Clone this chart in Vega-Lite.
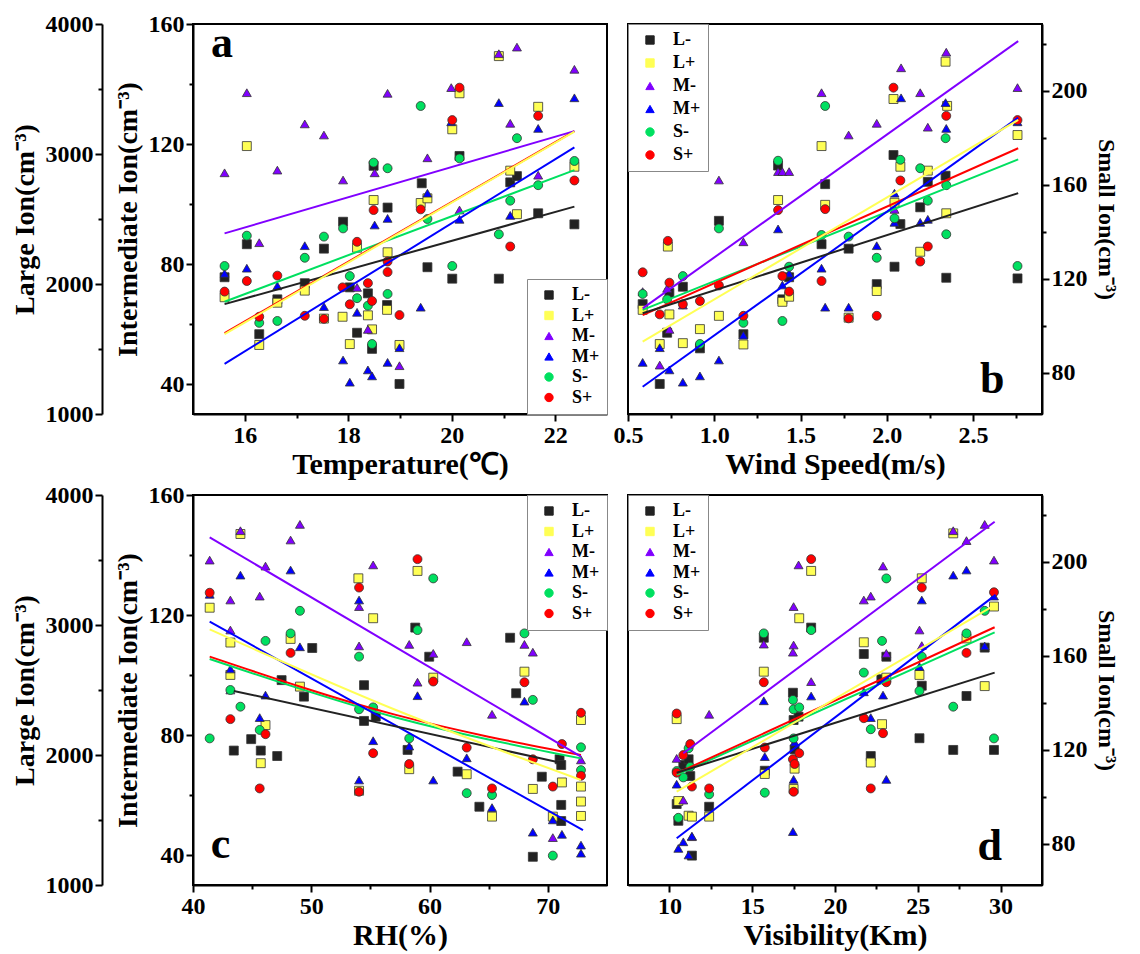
{
"$schema": "https://vega.github.io/schema/vega-lite/v6.json",
"background": "white",
"padding": {"left": 10, "top": 11, "right": 5, "bottom": 5},
"datasets": {
"letters": [
{"panel":"a","x":15.35,"y":149,"label":"a"},{"panel":"b","x":2.54,"y":37,"label":"b"},{"panel":"c","x":41.5,"y":39,"label":"c"},{"panel":"d","x":28.6,"y":38.3,"label":"d"}
],
"fits": [
{"panel":"a","series":"L-","x":15.61,"y":1845},{"panel":"a","series":"L-","x":22.37,"y":2595},
{"panel":"a","series":"L+","x":15.61,"y":1614},{"panel":"a","series":"L+","x":22.37,"y":3172},
{"panel":"a","series":"M-","x":15.61,"y":90.2},{"panel":"a","series":"M-","x":22.37,"y":124.3},
{"panel":"a","series":"M+","x":15.61,"y":46.7},{"panel":"a","series":"M+","x":22.37,"y":118.9},
{"panel":"a","series":"S-","x":15.61,"y":110.3},{"panel":"a","series":"S-","x":22.37,"y":166.3},
{"panel":"a","series":"S+","x":15.61,"y":96.9},{"panel":"a","series":"S+","x":22.37,"y":182.9},
{"panel":"b","series":"L-","x":0.585,"y":1775},{"panel":"b","series":"L-","x":2.762,"y":2699},
{"panel":"b","series":"L+","x":0.585,"y":1556},{"panel":"b","series":"L+","x":2.762,"y":3262},
{"panel":"b","series":"M-","x":0.585,"y":65.2},{"panel":"b","series":"M-","x":2.762,"y":154.3},
{"panel":"b","series":"M+","x":0.585,"y":39.1},{"panel":"b","series":"M+","x":2.762,"y":128.8},
{"panel":"b","series":"S-","x":0.585,"y":106.8},{"panel":"b","series":"S-","x":2.762,"y":170.9},
{"panel":"b","series":"S+","x":0.585,"y":104.6},{"panel":"b","series":"S+","x":2.762,"y":175.6},
{"panel":"c","series":"L-","x":43.45,"y":2493},{"panel":"c","series":"L-","x":71.27,"y":1937},
{"panel":"c","series":"L+","x":41.41,"y":2966},{"panel":"c","series":"L+","x":57.15,"y":2346},{"panel":"c","series":"L+","x":72.8,"y":1808},
{"panel":"c","series":"M-","x":41.41,"y":145.9},{"panel":"c","series":"M-","x":72.8,"y":72.8},
{"panel":"c","series":"M+","x":41.41,"y":117.8},{"panel":"c","series":"M+","x":72.97,"y":48.3},
{"panel":"c","series":"S-","x":41.41,"y":158.7},{"panel":"c","series":"S-","x":57.15,"y":133.8},{"panel":"c","series":"S-","x":72.8,"y":116.4},
{"panel":"c","series":"S+","x":41.41,"y":159.7},{"panel":"c","series":"S+","x":57.15,"y":134.9},{"panel":"c","series":"S+","x":72.8,"y":117.8},
{"panel":"d","series":"L-","x":10.44,"y":1863},{"panel":"d","series":"L-","x":29.64,"y":2634},
{"panel":"d","series":"L+","x":10.44,"y":1718},{"panel":"d","series":"L+","x":29.64,"y":3153},
{"panel":"d","series":"M-","x":10.84,"y":73.9},{"panel":"d","series":"M-","x":29.64,"y":151.1},
{"panel":"d","series":"M+","x":10.44,"y":45.6},{"panel":"d","series":"M+","x":29.7,"y":126.7},
{"panel":"d","series":"S-","x":10.44,"y":109.4},{"panel":"d","series":"S-","x":29.64,"y":170},
{"panel":"d","series":"S+","x":10.44,"y":110},{"panel":"d","series":"S+","x":29.64,"y":172.2}
],
"pts": [
{"panel":"a","series":"L-","x":15.61,"y":2052},{"panel":"a","series":"L-","x":16.04,"y":2306},{"panel":"a","series":"L-","x":16.28,"y":1614},{"panel":"a","series":"L-","x":16.63,"y":1882},{"panel":"a","series":"L-","x":17.16,"y":2006},{"panel":"a","series":"L-","x":17.53,"y":2272},{"panel":"a","series":"L-","x":17.9,"y":2479},{"panel":"a","series":"L-","x":18.03,"y":1974},{"panel":"a","series":"L-","x":18.17,"y":1625},{"panel":"a","series":"L-","x":18.38,"y":1928},{"panel":"a","series":"L-","x":18.46,"y":1501},{"panel":"a","series":"L-","x":18.49,"y":2909},{"panel":"a","series":"L-","x":18.76,"y":2588},{"panel":"a","series":"L-","x":18.75,"y":1838},{"panel":"a","series":"L-","x":18.99,"y":1231},{"panel":"a","series":"L-","x":19.42,"y":2775},{"panel":"a","series":"L-","x":19.53,"y":2129},{"panel":"a","series":"L-","x":20.01,"y":2041},{"panel":"a","series":"L-","x":20.15,"y":2985},{"panel":"a","series":"L-","x":20.91,"y":2041},{"panel":"a","series":"L-","x":21.13,"y":2782},{"panel":"a","series":"L-","x":21.26,"y":2830},{"panel":"a","series":"L-","x":21.67,"y":2544},{"panel":"a","series":"L-","x":22.37,"y":2459},
{"panel":"a","series":"L+","x":15.61,"y":1898},{"panel":"a","series":"L+","x":16.04,"y":3061},{"panel":"a","series":"L+","x":16.28,"y":1531},{"panel":"a","series":"L+","x":16.63,"y":1856},{"panel":"a","series":"L+","x":17.16,"y":1949},{"panel":"a","series":"L+","x":17.53,"y":1734},{"panel":"a","series":"L+","x":17.89,"y":1748},{"panel":"a","series":"L+","x":18.03,"y":1538},{"panel":"a","series":"L+","x":18.17,"y":2279},{"panel":"a","series":"L+","x":18.38,"y":1759},{"panel":"a","series":"L+","x":18.46,"y":1651},{"panel":"a","series":"L+","x":18.49,"y":2646},{"panel":"a","series":"L+","x":18.76,"y":2244},{"panel":"a","series":"L+","x":18.75,"y":1801},{"panel":"a","series":"L+","x":18.99,"y":1531},{"panel":"a","series":"L+","x":19.4,"y":2623},{"panel":"a","series":"L+","x":19.53,"y":2659},{"panel":"a","series":"L+","x":20.01,"y":3190},{"panel":"a","series":"L+","x":20.15,"y":3467},{"panel":"a","series":"L+","x":20.91,"y":3753},{"panel":"a","series":"L+","x":21.13,"y":2872},{"panel":"a","series":"L+","x":21.26,"y":2537},{"panel":"a","series":"L+","x":21.67,"y":3363},{"panel":"a","series":"L+","x":22.37,"y":2902},
{"panel":"a","series":"M-","x":15.61,"y":110.4},{"panel":"a","series":"M-","x":16.04,"y":137.1},{"panel":"a","series":"M-","x":16.28,"y":87.1},{"panel":"a","series":"M-","x":16.63,"y":111.3},{"panel":"a","series":"M-","x":17.16,"y":126.7},{"panel":"a","series":"M-","x":17.53,"y":123},{"panel":"a","series":"M-","x":17.9,"y":108},{"panel":"a","series":"M-","x":18.17,"y":72.2},{"panel":"a","series":"M-","x":18.38,"y":58.2},{"panel":"a","series":"M-","x":18.51,"y":110.4},{"panel":"a","series":"M-","x":18.76,"y":136.9},{"panel":"a","series":"M-","x":18.99,"y":46.1},{"panel":"a","series":"M-","x":19.53,"y":115.4},{"panel":"a","series":"M-","x":19.99,"y":138.8},{"panel":"a","series":"M-","x":20.15,"y":98},{"panel":"a","series":"M-","x":20.91,"y":150.1},{"panel":"a","series":"M-","x":21.26,"y":152.3},{"panel":"a","series":"M-","x":21.13,"y":126.9},{"panel":"a","series":"M-","x":21.67,"y":109.6},{"panel":"a","series":"M-","x":22.37,"y":144.9},
{"panel":"a","series":"M+","x":15.61,"y":76.9},{"panel":"a","series":"M+","x":16.04,"y":78.6},{"panel":"a","series":"M+","x":16.63,"y":72.7},{"panel":"a","series":"M+","x":17.16,"y":86.1},{"panel":"a","series":"M+","x":17.53,"y":65.8},{"panel":"a","series":"M+","x":17.9,"y":48},{"panel":"a","series":"M+","x":18.03,"y":40.6},{"panel":"a","series":"M+","x":18.17,"y":63.9},{"panel":"a","series":"M+","x":18.38,"y":44.7},{"panel":"a","series":"M+","x":18.46,"y":42.7},{"panel":"a","series":"M+","x":18.51,"y":93},{"panel":"a","series":"M+","x":18.76,"y":95.2},{"panel":"a","series":"M+","x":18.76,"y":47.2},{"panel":"a","series":"M+","x":18.99,"y":52.1},{"panel":"a","series":"M+","x":19.4,"y":65.6},{"panel":"a","series":"M+","x":19.53,"y":103.6},{"panel":"a","series":"M+","x":19.99,"y":127.4},{"panel":"a","series":"M+","x":20.15,"y":94.9},{"panel":"a","series":"M+","x":20.91,"y":133.8},{"panel":"a","series":"M+","x":21.13,"y":96.2},{"panel":"a","series":"M+","x":21.67,"y":125.2},{"panel":"a","series":"M+","x":22.37,"y":135.4},
{"panel":"a","series":"S-","x":15.61,"y":125.5},{"panel":"a","series":"S-","x":16.04,"y":138.4},{"panel":"a","series":"S-","x":16.28,"y":101.3},{"panel":"a","series":"S-","x":16.63,"y":102.1},{"panel":"a","series":"S-","x":17.16,"y":129},{"panel":"a","series":"S-","x":17.53,"y":138},{"panel":"a","series":"S-","x":17.9,"y":141.5},{"panel":"a","series":"S-","x":18.03,"y":121.2},{"panel":"a","series":"S-","x":18.17,"y":111.8},{"panel":"a","series":"S-","x":18.38,"y":108.6},{"panel":"a","series":"S-","x":18.46,"y":92.3},{"panel":"a","series":"S-","x":18.49,"y":169.5},{"panel":"a","series":"S-","x":18.76,"y":167.1},{"panel":"a","series":"S-","x":18.76,"y":113.6},{"panel":"a","series":"S-","x":19.4,"y":193.6},{"panel":"a","series":"S-","x":19.53,"y":145.5},{"panel":"a","series":"S-","x":20.01,"y":125.5},{"panel":"a","series":"S-","x":20.15,"y":171.3},{"panel":"a","series":"S-","x":20.91,"y":139},{"panel":"a","series":"S-","x":21.13,"y":153.3},{"panel":"a","series":"S-","x":21.26,"y":179.9},{"panel":"a","series":"S-","x":21.67,"y":159.9},{"panel":"a","series":"S-","x":22.37,"y":170.2},
{"panel":"a","series":"S+","x":15.61,"y":114.6},{"panel":"a","series":"S+","x":16.04,"y":119.1},{"panel":"a","series":"S+","x":16.28,"y":103.9},{"panel":"a","series":"S+","x":16.63,"y":121.4},{"panel":"a","series":"S+","x":17.16,"y":104.3},{"panel":"a","series":"S+","x":17.53,"y":103},{"panel":"a","series":"S+","x":17.89,"y":116.4},{"panel":"a","series":"S+","x":18.03,"y":109.2},{"panel":"a","series":"S+","x":18.17,"y":135.8},{"panel":"a","series":"S+","x":18.38,"y":118.2},{"panel":"a","series":"S+","x":18.46,"y":110.6},{"panel":"a","series":"S+","x":18.49,"y":149.3},{"panel":"a","series":"S+","x":18.76,"y":127.4},{"panel":"a","series":"S+","x":18.76,"y":122.9},{"panel":"a","series":"S+","x":18.99,"y":104.6},{"panel":"a","series":"S+","x":19.4,"y":149.6},{"panel":"a","series":"S+","x":20.01,"y":187.6},{"panel":"a","series":"S+","x":20.15,"y":201.4},{"panel":"a","series":"S+","x":21.13,"y":133.8},{"panel":"a","series":"S+","x":21.67,"y":189.4},{"panel":"a","series":"S+","x":22.37,"y":161.9},
{"panel":"b","series":"L-","x":0.585,"y":1845},{"panel":"b","series":"L-","x":0.684,"y":1231},{"panel":"b","series":"L-","x":0.727,"y":1625},{"panel":"b","series":"L-","x":0.74,"y":1932},{"panel":"b","series":"L-","x":0.818,"y":1979},{"panel":"b","series":"L-","x":0.917,"y":1505},{"panel":"b","series":"L-","x":1.027,"y":2486},{"panel":"b","series":"L-","x":1.169,"y":1614},{"panel":"b","series":"L-","x":1.37,"y":2911},{"panel":"b","series":"L-","x":1.395,"y":1882},{"panel":"b","series":"L-","x":1.434,"y":2052},{"panel":"b","series":"L-","x":1.622,"y":2306},{"panel":"b","series":"L-","x":1.643,"y":2768},{"panel":"b","series":"L-","x":1.779,"y":2272},{"panel":"b","series":"L-","x":1.942,"y":1999},{"panel":"b","series":"L-","x":2.039,"y":2992},{"panel":"b","series":"L-","x":2.045,"y":2133},{"panel":"b","series":"L-","x":2.079,"y":2461},{"panel":"b","series":"L-","x":2.194,"y":2590},{"panel":"b","series":"L-","x":2.238,"y":2786},{"panel":"b","series":"L-","x":2.341,"y":2833},{"panel":"b","series":"L-","x":2.345,"y":2048},{"panel":"b","series":"L-","x":2.758,"y":2043},
{"panel":"b","series":"L+","x":0.585,"y":1801},{"panel":"b","series":"L+","x":0.684,"y":1538},{"panel":"b","series":"L+","x":0.74,"y":1766},{"panel":"b","series":"L+","x":0.731,"y":2288},{"panel":"b","series":"L+","x":0.818,"y":1545},{"panel":"b","series":"L+","x":0.917,"y":1653},{"panel":"b","series":"L+","x":1.027,"y":1755},{"panel":"b","series":"L+","x":1.169,"y":1535},{"panel":"b","series":"L+","x":1.37,"y":2646},{"panel":"b","series":"L+","x":1.395,"y":1863},{"panel":"b","series":"L+","x":1.434,"y":1902},{"panel":"b","series":"L+","x":1.622,"y":3061},{"panel":"b","series":"L+","x":1.643,"y":2609},{"panel":"b","series":"L+","x":1.779,"y":1741},{"panel":"b","series":"L+","x":1.942,"y":1946},{"panel":"b","series":"L+","x":2.039,"y":3423},{"panel":"b","series":"L+","x":2.045,"y":2625},{"panel":"b","series":"L+","x":2.079,"y":2902},{"panel":"b","series":"L+","x":2.194,"y":2248},{"panel":"b","series":"L+","x":2.238,"y":2872},{"panel":"b","series":"L+","x":2.341,"y":3710},{"panel":"b","series":"L+","x":2.345,"y":2544},{"panel":"b","series":"L+","x":2.35,"y":3370},{"panel":"b","series":"L+","x":2.758,"y":3146},
{"panel":"b","series":"M-","x":0.585,"y":70.8},{"panel":"b","series":"M-","x":0.684,"y":46.3},{"panel":"b","series":"M-","x":0.727,"y":71.9},{"panel":"b","series":"M-","x":0.74,"y":58.2},{"panel":"b","series":"M-","x":0.818,"y":66.3},{"panel":"b","series":"M-","x":1.027,"y":108},{"panel":"b","series":"M-","x":1.169,"y":87.4},{"panel":"b","series":"M-","x":1.37,"y":110.8},{"panel":"b","series":"M-","x":1.395,"y":110.8},{"panel":"b","series":"M-","x":1.434,"y":110.8},{"panel":"b","series":"M-","x":1.622,"y":137.1},{"panel":"b","series":"M-","x":1.779,"y":123},{"panel":"b","series":"M-","x":1.942,"y":126.9},{"panel":"b","series":"M-","x":2.045,"y":98.2},{"panel":"b","series":"M-","x":2.083,"y":145.4},{"panel":"b","series":"M-","x":2.194,"y":137.1},{"panel":"b","series":"M-","x":2.238,"y":125.6},{"panel":"b","series":"M-","x":2.345,"y":150.6},{"panel":"b","series":"M-","x":2.758,"y":138.8},
{"panel":"b","series":"M+","x":0.585,"y":47.2},{"panel":"b","series":"M+","x":0.684,"y":52.1},{"panel":"b","series":"M+","x":0.74,"y":44.7},{"panel":"b","series":"M+","x":0.818,"y":40.6},{"panel":"b","series":"M+","x":0.917,"y":42.7},{"panel":"b","series":"M+","x":1.027,"y":48},{"panel":"b","series":"M+","x":1.169,"y":56.3},{"panel":"b","series":"M+","x":1.37,"y":91.7},{"panel":"b","series":"M+","x":1.395,"y":73},{"panel":"b","series":"M+","x":1.434,"y":76.9},{"panel":"b","series":"M+","x":1.622,"y":78.6},{"panel":"b","series":"M+","x":1.643,"y":65.6},{"panel":"b","series":"M+","x":1.779,"y":65.6},{"panel":"b","series":"M+","x":1.942,"y":86.1},{"panel":"b","series":"M+","x":2.045,"y":103.6},{"panel":"b","series":"M+","x":2.045,"y":93.9},{"panel":"b","series":"M+","x":2.083,"y":135.4},{"panel":"b","series":"M+","x":2.194,"y":93.9},{"panel":"b","series":"M+","x":2.238,"y":94.9},{"panel":"b","series":"M+","x":2.341,"y":133.8},{"panel":"b","series":"M+","x":2.345,"y":125.2},{"panel":"b","series":"M+","x":2.758,"y":127.4},
{"panel":"b","series":"S-","x":0.585,"y":113.6},{"panel":"b","series":"S-","x":0.727,"y":111.3},{"panel":"b","series":"S-","x":0.818,"y":121.2},{"panel":"b","series":"S-","x":0.917,"y":92.3},{"panel":"b","series":"S-","x":1.027,"y":141.5},{"panel":"b","series":"S-","x":1.169,"y":101.3},{"panel":"b","series":"S-","x":1.37,"y":170.3},{"panel":"b","series":"S-","x":1.395,"y":102.1},{"panel":"b","series":"S-","x":1.434,"y":125.2},{"panel":"b","series":"S-","x":1.622,"y":138.7},{"panel":"b","series":"S-","x":1.643,"y":193.6},{"panel":"b","series":"S-","x":1.779,"y":138},{"panel":"b","series":"S-","x":1.942,"y":129},{"panel":"b","series":"S-","x":2.045,"y":145.8},{"panel":"b","series":"S-","x":2.079,"y":170.7},{"panel":"b","series":"S-","x":2.194,"y":167.1},{"panel":"b","series":"S-","x":2.238,"y":153.3},{"panel":"b","series":"S-","x":2.341,"y":179.9},{"panel":"b","series":"S-","x":2.345,"y":159.9},{"panel":"b","series":"S-","x":2.345,"y":139},{"panel":"b","series":"S-","x":2.758,"y":125.5},
{"panel":"b","series":"S+","x":0.585,"y":122.8},{"panel":"b","series":"S+","x":0.684,"y":104.9},{"panel":"b","series":"S+","x":0.731,"y":136.2},{"panel":"b","series":"S+","x":0.74,"y":118.4},{"panel":"b","series":"S+","x":0.818,"y":109.2},{"panel":"b","series":"S+","x":0.917,"y":110.6},{"panel":"b","series":"S+","x":1.027,"y":117.2},{"panel":"b","series":"S+","x":1.169,"y":104.3},{"panel":"b","series":"S+","x":1.37,"y":149.3},{"panel":"b","series":"S+","x":1.395,"y":121.2},{"panel":"b","series":"S+","x":1.434,"y":114.6},{"panel":"b","series":"S+","x":1.622,"y":119.1},{"panel":"b","series":"S+","x":1.643,"y":149.7},{"panel":"b","series":"S+","x":1.779,"y":103.2},{"panel":"b","series":"S+","x":1.942,"y":104.3},{"panel":"b","series":"S+","x":2.039,"y":201.4},{"panel":"b","series":"S+","x":2.079,"y":161.9},{"panel":"b","series":"S+","x":2.194,"y":127.4},{"panel":"b","series":"S+","x":2.238,"y":133.8},{"panel":"b","series":"S+","x":2.345,"y":189.4},{"panel":"b","series":"S+","x":2.758,"y":187.6},
{"panel":"c","series":"L-","x":43.45,"y":2034},{"panel":"c","series":"L-","x":44.92,"y":2122},{"panel":"c","series":"L-","x":45.73,"y":2034},{"panel":"c","series":"L-","x":47.12,"y":1992},{"panel":"c","series":"L-","x":47.49,"y":2576},{"panel":"c","series":"L-","x":49.38,"y":2449},{"panel":"c","series":"L-","x":50.08,"y":2823},{"panel":"c","series":"L-","x":54.46,"y":2537},{"panel":"c","series":"L-","x":54.46,"y":2262},{"panel":"c","series":"L-","x":55.45,"y":2295},{"panel":"c","series":"L-","x":58.14,"y":2039},{"panel":"c","series":"L-","x":58.79,"y":2980},{"panel":"c","series":"L-","x":59.97,"y":2756},{"panel":"c","series":"L-","x":62.37,"y":1872},{"panel":"c","series":"L-","x":64.21,"y":1602},{"panel":"c","series":"L-","x":66.81,"y":2902},{"panel":"c","series":"L-","x":67.32,"y":2475},{"panel":"c","series":"L-","x":68.73,"y":1217},{"panel":"c","series":"L-","x":69.49,"y":1833},{"panel":"c","series":"L-","x":70.99,"y":1967},{"panel":"c","series":"L-","x":71.13,"y":1616},{"panel":"c","series":"L-","x":71.13,"y":1492},{"panel":"c","series":"L-","x":71.13,"y":1923},
{"panel":"c","series":"L+","x":41.41,"y":3133},{"panel":"c","series":"L+","x":43.16,"y":2865},{"panel":"c","series":"L+","x":43.16,"y":2616},{"panel":"c","series":"L+","x":44.01,"y":3700},{"panel":"c","series":"L+","x":45.73,"y":1937},{"panel":"c","series":"L+","x":46.13,"y":2230},{"panel":"c","series":"L+","x":48.25,"y":2893},{"panel":"c","series":"L+","x":49.04,"y":2526},{"panel":"c","series":"L+","x":53.98,"y":3359},{"panel":"c","series":"L+","x":54.04,"y":1725},{"panel":"c","series":"L+","x":55.23,"y":3052},{"panel":"c","series":"L+","x":58.28,"y":1891},{"panel":"c","series":"L+","x":58.98,"y":3416},{"panel":"c","series":"L+","x":60.31,"y":2595},{"panel":"c","series":"L+","x":63.14,"y":1852},{"panel":"c","series":"L+","x":65.28,"y":1526},{"panel":"c","series":"L+","x":68.02,"y":2641},{"panel":"c","series":"L+","x":68.73,"y":1739},{"panel":"c","series":"L+","x":70.42,"y":1526},{"panel":"c","series":"L+","x":71.19,"y":1789},{"panel":"c","series":"L+","x":72.8,"y":2269},{"panel":"c","series":"L+","x":72.8,"y":1757},{"panel":"c","series":"L+","x":72.8,"y":1642},{"panel":"c","series":"L+","x":72.8,"y":1531},
{"panel":"c","series":"M-","x":41.41,"y":138.3},{"panel":"c","series":"M-","x":43.16,"y":125},{"panel":"c","series":"M-","x":43.16,"y":115},{"panel":"c","series":"M-","x":43.16,"y":95},{"panel":"c","series":"M-","x":44.01,"y":148.1},{"panel":"c","series":"M-","x":45.64,"y":126.3},{"panel":"c","series":"M-","x":46.13,"y":136.3},{"panel":"c","series":"M-","x":48.25,"y":145},{"panel":"c","series":"M-","x":49.04,"y":150.2},{"panel":"c","series":"M-","x":54.04,"y":109.7},{"panel":"c","series":"M-","x":54.04,"y":122.8},{"panel":"c","series":"M-","x":55.23,"y":136.7},{"panel":"c","series":"M-","x":58.28,"y":110.2},{"panel":"c","series":"M-","x":58.98,"y":97.6},{"panel":"c","series":"M-","x":60.31,"y":107.2},{"panel":"c","series":"M-","x":63.14,"y":111.1},{"panel":"c","series":"M-","x":65.28,"y":86.9},{"panel":"c","series":"M-","x":68.02,"y":110.2},{"panel":"c","series":"M-","x":68.73,"y":107.6},{"panel":"c","series":"M-","x":70.42,"y":45.8},{"panel":"c","series":"M-","x":72.8,"y":71.7},
{"panel":"c","series":"M+","x":41.41,"y":126.9},{"panel":"c","series":"M+","x":43.16,"y":102},{"panel":"c","series":"M+","x":44.01,"y":133.3},{"panel":"c","series":"M+","x":45.64,"y":85.8},{"panel":"c","series":"M+","x":46.13,"y":93.3},{"panel":"c","series":"M+","x":48.25,"y":135},{"panel":"c","series":"M+","x":49.04,"y":109.4},{"panel":"c","series":"M+","x":54.04,"y":65},{"panel":"c","series":"M+","x":54.04,"y":125},{"panel":"c","series":"M+","x":55.23,"y":78.1},{"panel":"c","series":"M+","x":58.28,"y":76.3},{"panel":"c","series":"M+","x":58.98,"y":93.1},{"panel":"c","series":"M+","x":60.31,"y":65},{"panel":"c","series":"M+","x":63.14,"y":72.4},{"panel":"c","series":"M+","x":65.28,"y":55.8},{"panel":"c","series":"M+","x":68.02,"y":91.3},{"panel":"c","series":"M+","x":68.73,"y":47.6},{"panel":"c","series":"M+","x":70.42,"y":51.7},{"panel":"c","series":"M+","x":71.19,"y":46.9},{"panel":"c","series":"M+","x":72.8,"y":40.6},{"panel":"c","series":"M+","x":72.8,"y":43.3},
{"panel":"c","series":"S-","x":41.41,"y":124.9},{"panel":"c","series":"S-","x":43.16,"y":145.5},{"panel":"c","series":"S-","x":44.01,"y":138.4},{"panel":"c","series":"S-","x":45.64,"y":128.5},{"panel":"c","series":"S-","x":46.13,"y":166.4},{"panel":"c","series":"S-","x":48.25,"y":169.6},{"panel":"c","series":"S-","x":49.04,"y":179.2},{"panel":"c","series":"S-","x":54.04,"y":159.7},{"panel":"c","series":"S-","x":54.04,"y":137.3},{"panel":"c","series":"S-","x":55.23,"y":138.1},{"panel":"c","series":"S-","x":58.28,"y":124.9},{"panel":"c","series":"S-","x":58.98,"y":171},{"panel":"c","series":"S-","x":60.31,"y":193},{"panel":"c","series":"S-","x":63.14,"y":101.6},{"panel":"c","series":"S-","x":65.28,"y":100.8},{"panel":"c","series":"S-","x":68.02,"y":169.6},{"panel":"c","series":"S-","x":68.73,"y":141.3},{"panel":"c","series":"S-","x":70.42,"y":75},{"panel":"c","series":"S-","x":72.8,"y":121.1},{"panel":"c","series":"S-","x":72.8,"y":111.4},
{"panel":"c","series":"S+","x":41.41,"y":186.9},{"panel":"c","series":"S+","x":43.16,"y":133.1},{"panel":"c","series":"S+","x":45.64,"y":103.6},{"panel":"c","series":"S+","x":46.13,"y":126.7},{"panel":"c","series":"S+","x":48.25,"y":161.3},{"panel":"c","series":"S+","x":54.04,"y":189.1},{"panel":"c","series":"S+","x":54.04,"y":102.2},{"panel":"c","series":"S+","x":55.23,"y":118.6},{"panel":"c","series":"S+","x":58.28,"y":114},{"panel":"c","series":"S+","x":58.98,"y":201.2},{"panel":"c","series":"S+","x":60.31,"y":149.1},{"panel":"c","series":"S+","x":63.14,"y":121},{"panel":"c","series":"S+","x":65.28,"y":103.6},{"panel":"c","series":"S+","x":68.02,"y":148.8},{"panel":"c","series":"S+","x":68.73,"y":116},{"panel":"c","series":"S+","x":70.42,"y":104.4},{"panel":"c","series":"S+","x":71.19,"y":122.5},{"panel":"c","series":"S+","x":72.8,"y":135.8},{"panel":"c","series":"S+","x":72.8,"y":109},
{"panel":"d","series":"L-","x":10.44,"y":1623},{"panel":"d","series":"L-","x":10.54,"y":1494},{"panel":"d","series":"L-","x":10.84,"y":1923},{"panel":"d","series":"L-","x":11.16,"y":1967},{"panel":"d","series":"L-","x":11.26,"y":1838},{"panel":"d","series":"L-","x":11.36,"y":1226},{"panel":"d","series":"L-","x":12.4,"y":1602},{"panel":"d","series":"L-","x":15.7,"y":2902},{"panel":"d","series":"L-","x":15.76,"y":1879},{"panel":"d","series":"L-","x":17.46,"y":2479},{"panel":"d","series":"L-","x":17.5,"y":2269},{"panel":"d","series":"L-","x":17.56,"y":2043},{"panel":"d","series":"L-","x":17.8,"y":2295},{"panel":"d","series":"L-","x":18.56,"y":2980},{"panel":"d","series":"L-","x":21.74,"y":2777},{"panel":"d","series":"L-","x":22.16,"y":1992},{"panel":"d","series":"L-","x":22.8,"y":2583},{"panel":"d","series":"L-","x":23.1,"y":2756},{"panel":"d","series":"L-","x":25.1,"y":2129},{"panel":"d","series":"L-","x":25.24,"y":2533},{"panel":"d","series":"L-","x":27.14,"y":2039},{"panel":"d","series":"L-","x":27.94,"y":2454},{"panel":"d","series":"L-","x":29.04,"y":2826},{"panel":"d","series":"L-","x":29.6,"y":2039},
{"panel":"d","series":"L+","x":10.44,"y":2276},{"panel":"d","series":"L+","x":10.54,"y":1646},{"panel":"d","series":"L+","x":11.16,"y":1533},{"panel":"d","series":"L+","x":11.36,"y":1526},{"panel":"d","series":"L+","x":12.4,"y":1526},{"panel":"d","series":"L+","x":15.7,"y":2641},{"panel":"d","series":"L+","x":15.76,"y":1854},{"panel":"d","series":"L+","x":17.5,"y":1739},{"panel":"d","series":"L+","x":17.56,"y":1895},{"panel":"d","series":"L+","x":17.84,"y":3052},{"panel":"d","series":"L+","x":18.56,"y":3416},{"panel":"d","series":"L+","x":21.74,"y":2867},{"panel":"d","series":"L+","x":22.16,"y":1942},{"panel":"d","series":"L+","x":22.84,"y":2237},{"panel":"d","series":"L+","x":23.1,"y":2595},{"panel":"d","series":"L+","x":25.1,"y":2616},{"panel":"d","series":"L+","x":25.24,"y":3359},{"panel":"d","series":"L+","x":27.14,"y":3705},{"panel":"d","series":"L+","x":27.94,"y":2897},{"panel":"d","series":"L+","x":29.04,"y":2530},{"panel":"d","series":"L+","x":29.6,"y":3142},
{"panel":"d","series":"M-","x":10.44,"y":72.2},{"panel":"d","series":"M-","x":10.84,"y":58.3},{"panel":"d","series":"M-","x":11.36,"y":46.1},{"panel":"d","series":"M-","x":12.4,"y":86.9},{"panel":"d","series":"M-","x":15.7,"y":110.3},{"panel":"d","series":"M-","x":17.5,"y":122.8},{"panel":"d","series":"M-","x":17.5,"y":110},{"panel":"d","series":"M-","x":17.46,"y":107.6},{"panel":"d","series":"M-","x":17.8,"y":136.7},{"panel":"d","series":"M-","x":18.56,"y":97.8},{"panel":"d","series":"M-","x":21.74,"y":125},{"panel":"d","series":"M-","x":22.16,"y":126.3},{"panel":"d","series":"M-","x":22.9,"y":136.3},{"panel":"d","series":"M-","x":23.1,"y":107.2},{"panel":"d","series":"M-","x":25.1,"y":115},{"panel":"d","series":"M-","x":25.24,"y":109.8},{"panel":"d","series":"M-","x":27.14,"y":148.1},{"panel":"d","series":"M-","x":27.94,"y":144.8},{"panel":"d","series":"M-","x":29.04,"y":150.2},{"panel":"d","series":"M-","x":29.6,"y":138.3},
{"panel":"d","series":"M+","x":10.44,"y":63.6},{"panel":"d","series":"M+","x":10.54,"y":42.2},{"panel":"d","series":"M+","x":10.84,"y":44.4},{"panel":"d","series":"M+","x":11.16,"y":40},{"panel":"d","series":"M+","x":11.36,"y":46.3},{"panel":"d","series":"M+","x":15.7,"y":91.4},{"panel":"d","series":"M+","x":15.76,"y":72.8},{"panel":"d","series":"M+","x":17.46,"y":47.8},{"panel":"d","series":"M+","x":17.5,"y":65.2},{"panel":"d","series":"M+","x":17.56,"y":77.6},{"panel":"d","series":"M+","x":18.56,"y":93},{"panel":"d","series":"M+","x":21.74,"y":94.4},{"panel":"d","series":"M+","x":22.16,"y":85.8},{"panel":"d","series":"M+","x":22.9,"y":93.3},{"panel":"d","series":"M+","x":23.1,"y":65.2},{"panel":"d","series":"M+","x":25.1,"y":102.8},{"panel":"d","series":"M+","x":25.24,"y":125},{"panel":"d","series":"M+","x":27.14,"y":133.3},{"panel":"d","series":"M+","x":27.94,"y":135},{"panel":"d","series":"M+","x":29.04,"y":109.7},{"panel":"d","series":"M+","x":29.6,"y":126.3},
{"panel":"d","series":"S-","x":10.44,"y":111},{"panel":"d","series":"S-","x":10.54,"y":91.1},{"panel":"d","series":"S-","x":10.84,"y":108.3},{"panel":"d","series":"S-","x":11.16,"y":120.7},{"panel":"d","series":"S-","x":11.26,"y":112.8},{"panel":"d","series":"S-","x":12.4,"y":101.1},{"panel":"d","series":"S-","x":15.7,"y":169.6},{"panel":"d","series":"S-","x":15.76,"y":101.8},{"panel":"d","series":"S-","x":17.46,"y":141.3},{"panel":"d","series":"S-","x":17.5,"y":124.9},{"panel":"d","series":"S-","x":17.5,"y":137.3},{"panel":"d","series":"S-","x":17.84,"y":138.1},{"panel":"d","series":"S-","x":18.56,"y":171},{"panel":"d","series":"S-","x":21.74,"y":152.9},{"panel":"d","series":"S-","x":22.16,"y":128.8},{"panel":"d","series":"S-","x":22.84,"y":166.4},{"panel":"d","series":"S-","x":23.1,"y":193},{"panel":"d","series":"S-","x":25.1,"y":145.1},{"panel":"d","series":"S-","x":25.24,"y":159.7},{"panel":"d","series":"S-","x":27.14,"y":138.4},{"panel":"d","series":"S-","x":27.94,"y":169.6},{"panel":"d","series":"S-","x":29.04,"y":179.2},{"panel":"d","series":"S-","x":29.6,"y":124.9},
{"panel":"d","series":"S+","x":10.44,"y":135.5},{"panel":"d","series":"S+","x":10.44,"y":110.3},{"panel":"d","series":"S+","x":10.84,"y":117.8},{"panel":"d","series":"S+","x":11.26,"y":122.5},{"panel":"d","series":"S+","x":11.36,"y":104.4},{"panel":"d","series":"S+","x":12.4,"y":103.6},{"panel":"d","series":"S+","x":15.7,"y":148.8},{"panel":"d","series":"S+","x":15.76,"y":121},{"panel":"d","series":"S+","x":17.46,"y":116},{"panel":"d","series":"S+","x":17.5,"y":102.2},{"panel":"d","series":"S+","x":17.56,"y":114},{"panel":"d","series":"S+","x":17.84,"y":118.6},{"panel":"d","series":"S+","x":18.56,"y":201.2},{"panel":"d","series":"S+","x":21.74,"y":133.5},{"panel":"d","series":"S+","x":22.16,"y":103.6},{"panel":"d","series":"S+","x":22.9,"y":127.1},{"panel":"d","series":"S+","x":23.1,"y":148.8},{"panel":"d","series":"S+","x":25.24,"y":189.1},{"panel":"d","series":"S+","x":27.94,"y":161.3},{"panel":"d","series":"S+","x":29.6,"y":187.1}
]
},
"config": {
"font": "Liberation Serif",
"view": {"stroke": "#000", "strokeWidth": 2},
"axis": {"labelFont": "Liberation Serif", "labelFontSize": 24, "labelFontWeight": "bold", "labelColor": "#000", "titleFont": "Liberation Serif", "titleFontSize": 28, "titleFontWeight": "bold", "titleColor": "#000", "domainColor": "#000", "domainWidth": 2, "tickColor": "#000", "tickWidth": 2, "grid": false, "labelFlush": false, "labelOverlap": false, "labelPadding": 2, "titlePadding": 6},
"axisX": {"titleFontSize": 30, "titlePadding": 2},
"legend": {"labelFont": "Liberation Serif", "labelFontSize": 18, "labelFontWeight": "bold", "labelColor": "#000", "symbolSize": 70, "strokeColor": "#888", "fillColor": "#fff", "padding": 7, "offset": 0, "rowPadding": 2.5, "symbolOffset": 6, "labelOffset": 14, "symbolStrokeColor": "#333", "symbolStrokeWidth": 1},
"range": {"category": ["#222222", "#ffff55", "#8000ff", "#0000ff", "#00e060", "#ff0000"], "symbol": ["square", "square", "triangle-up", "triangle-up", "circle", "circle"]}
},
"bounds": "flush",
"columns": 2,
"spacing": {"row": 81, "column": 21},
"resolve": {"scale": {"color": "independent", "shape": "independent"}},
"concat": [
{
"width": 414, "height": 390,
"resolve": {"scale": {"y": "independent"}},
"layer": [
{"data": {"name": "pts"}, "transform": [{"filter": "datum.panel=='a' && substring(datum.series,0,1)=='L'"}],
 "mark": {"type": "point", "filled": true, "size": 80, "stroke": "#333", "strokeWidth": 0.8, "opacity": 1},
 "encoding": {
  "x": {"field": "x", "type": "quantitative", "scale": {"domain": [15, 23], "nice": false, "zero": false}, "axis": {"values": [16,17,18,19,20,21,22], "format": "d", "labelExpr": "datum.value % 2 == 0 ? datum.label : ''", "tickSize": {"condition": {"test": "datum.value % 2 == 0", "value": 7}, "value": 4}, "title": "Temperature(℃)"}},
  "y": {"field": "y", "type": "quantitative", "scale": {"domain": [1000, 4000], "nice": false, "zero": false}, "axis": {"orient": "left", "offset": 91, "values": [1000,1500,2000,2500,3000,3500,4000], "format": "d", "labelExpr": "datum.value % 1000 == 0 ? datum.label : ''", "tickSize": {"condition": {"test": "datum.value % 1000 == 0", "value": 7}, "value": 4}, "title": "Large Ion(cm⁻³)"}},
  "color": {"field": "series", "type": "nominal", "scale": {"domain": ["L-","L+","M-","M+","S-","S+"]}, "legend": {"orient": "bottom-right", "title": null, "encode": {"symbols": {"update": {"stroke": {"value": "#333"}, "strokeWidth": {"value": 1}}}}}},
  "shape": {"field": "series", "type": "nominal", "scale": {"domain": ["L-","L+","M-","M+","S-","S+"]}, "legend": {"orient": "bottom-right", "title": null, "encode": {"symbols": {"update": {"stroke": {"value": "#333"}, "strokeWidth": {"value": 1}}}}}}
 }},
{"data": {"name": "pts"}, "transform": [{"filter": "datum.panel=='a' && substring(datum.series,0,1)=='M'"}],
 "mark": {"type": "point", "filled": true, "size": 80, "stroke": "#333", "strokeWidth": 0.8, "opacity": 1},
 "encoding": {
  "x": {"field": "x", "type": "quantitative", "scale": {"domain": [15, 23], "nice": false, "zero": false}, "axis": {"values": [16,17,18,19,20,21,22], "format": "d", "labelExpr": "datum.value % 2 == 0 ? datum.label : ''", "tickSize": {"condition": {"test": "datum.value % 2 == 0", "value": 7}, "value": 4}, "title": "Temperature(℃)"}},
  "y": {"field": "y", "type": "quantitative", "scale": {"domain": [30, 160], "nice": false, "zero": false}, "axis": {"orient": "left", "values": [40,60,80,100,120,140,160], "format": "d", "labelExpr": "datum.value % 40 == 0 ? datum.label : ''", "tickSize": {"condition": {"test": "datum.value % 40 == 0", "value": 7}, "value": 4}, "title": "Intermediate Ion(cm⁻³)"}},
  "color": {"field": "series", "type": "nominal", "scale": {"domain": ["L-","L+","M-","M+","S-","S+"]}, "legend": {"orient": "bottom-right", "title": null, "encode": {"symbols": {"update": {"stroke": {"value": "#333"}, "strokeWidth": {"value": 1}}}}}},
  "shape": {"field": "series", "type": "nominal", "scale": {"domain": ["L-","L+","M-","M+","S-","S+"]}, "legend": {"orient": "bottom-right", "title": null, "encode": {"symbols": {"update": {"stroke": {"value": "#333"}, "strokeWidth": {"value": 1}}}}}}
 }},
{"data": {"name": "pts"}, "transform": [{"filter": "datum.panel=='a' && substring(datum.series,0,1)=='S'"}],
 "mark": {"type": "point", "filled": true, "size": 80, "stroke": "#333", "strokeWidth": 0.8, "opacity": 1},
 "encoding": {
  "x": {"field": "x", "type": "quantitative", "scale": {"domain": [15, 23], "nice": false, "zero": false}, "axis": {"values": [16,17,18,19,20,21,22], "format": "d", "labelExpr": "datum.value % 2 == 0 ? datum.label : ''", "tickSize": {"condition": {"test": "datum.value % 2 == 0", "value": 7}, "value": 4}, "title": "Temperature(℃)"}},
  "y": {"field": "y", "type": "quantitative", "scale": {"domain": [62.5, 228.5], "nice": false, "zero": false}, "axis": null},
  "color": {"field": "series", "type": "nominal", "scale": {"domain": ["L-","L+","M-","M+","S-","S+"]}, "legend": {"orient": "bottom-right", "title": null, "encode": {"symbols": {"update": {"stroke": {"value": "#333"}, "strokeWidth": {"value": 1}}}}}},
  "shape": {"field": "series", "type": "nominal", "scale": {"domain": ["L-","L+","M-","M+","S-","S+"]}, "legend": {"orient": "bottom-right", "title": null, "encode": {"symbols": {"update": {"stroke": {"value": "#333"}, "strokeWidth": {"value": 1}}}}}}
 }},
{"data": {"name": "fits"}, "transform": [{"filter": "datum.panel=='a' && substring(datum.series,0,1)=='S'"}],
 "mark": {"type": "line", "strokeWidth": 2},
 "encoding": {
  "x": {"field": "x", "type": "quantitative", "scale": {"domain": [15, 23], "nice": false, "zero": false}, "axis": {"values": [16,17,18,19,20,21,22], "format": "d", "labelExpr": "datum.value % 2 == 0 ? datum.label : ''", "tickSize": {"condition": {"test": "datum.value % 2 == 0", "value": 7}, "value": 4}, "title": "Temperature(℃)"}},
  "y": {"field": "y", "type": "quantitative", "scale": {"domain": [62.5, 228.5], "nice": false, "zero": false}, "axis": null},
  "color": {"field": "series", "type": "nominal", "scale": {"domain": ["L-","L+","M-","M+","S-","S+"]}, "legend": null}
 }},
{"data": {"name": "fits"}, "transform": [{"filter": "datum.panel=='a' && substring(datum.series,0,1)=='M'"}],
 "mark": {"type": "line", "strokeWidth": 2},
 "encoding": {
  "x": {"field": "x", "type": "quantitative", "scale": {"domain": [15, 23], "nice": false, "zero": false}, "axis": {"values": [16,17,18,19,20,21,22], "format": "d", "labelExpr": "datum.value % 2 == 0 ? datum.label : ''", "tickSize": {"condition": {"test": "datum.value % 2 == 0", "value": 7}, "value": 4}, "title": "Temperature(℃)"}},
  "y": {"field": "y", "type": "quantitative", "scale": {"domain": [30, 160], "nice": false, "zero": false}, "axis": null},
  "color": {"field": "series", "type": "nominal", "scale": {"domain": ["L-","L+","M-","M+","S-","S+"]}, "legend": null}
 }},
{"data": {"name": "fits"}, "transform": [{"filter": "datum.panel=='a' && substring(datum.series,0,1)=='L'"}],
 "mark": {"type": "line", "strokeWidth": 2},
 "encoding": {
  "x": {"field": "x", "type": "quantitative", "scale": {"domain": [15, 23], "nice": false, "zero": false}, "axis": {"values": [16,17,18,19,20,21,22], "format": "d", "labelExpr": "datum.value % 2 == 0 ? datum.label : ''", "tickSize": {"condition": {"test": "datum.value % 2 == 0", "value": 7}, "value": 4}, "title": "Temperature(℃)"}},
  "y": {"field": "y", "type": "quantitative", "scale": {"domain": [1000, 4000], "nice": false, "zero": false}, "axis": null},
  "color": {"field": "series", "type": "nominal", "scale": {"domain": ["L-","L+","M-","M+","S-","S+"]}, "legend": null}
 }},
{"data": {"name": "letters"}, "transform": [{"filter": "datum.panel=='a'"}],
 "mark": {"type": "text", "font": "Liberation Serif", "fontWeight": "bold", "fontSize": 44, "align": "left", "baseline": "alphabetic", "color": "#000"},
 "encoding": {
  "x": {"field": "x", "type": "quantitative", "scale": {"domain": [15, 23], "nice": false, "zero": false}, "axis": {"values": [16,17,18,19,20,21,22], "format": "d", "labelExpr": "datum.value % 2 == 0 ? datum.label : ''", "tickSize": {"condition": {"test": "datum.value % 2 == 0", "value": 7}, "value": 4}, "title": "Temperature(℃)"}},
  "y": {"field": "y", "type": "quantitative", "scale": {"domain": [30, 160], "nice": false, "zero": false}, "axis": null},
  "text": {"field": "label"}
 }}
]
},
{
"width": 414, "height": 390,
"resolve": {"scale": {"y": "independent"}},
"layer": [
{"data": {"name": "pts"}, "transform": [{"filter": "datum.panel=='b' && substring(datum.series,0,1)=='L'"}],
 "mark": {"type": "point", "filled": true, "size": 80, "stroke": "#333", "strokeWidth": 0.8, "opacity": 1},
 "encoding": {
  "x": {"field": "x", "type": "quantitative", "scale": {"domain": [0.5, 2.9], "nice": false, "zero": false}, "axis": {"values": [0.5,0.75,1,1.25,1.5,1.75,2,2.25,2.5,2.75], "format": ".1f", "labelExpr": "round(datum.value*4) % 2 == 0 ? datum.label : ''", "tickSize": {"condition": {"test": "round(datum.value*4) % 2 == 0", "value": 7}, "value": 4}, "title": "Wind Speed(m/s)"}},
  "y": {"field": "y", "type": "quantitative", "scale": {"domain": [1000, 4000], "nice": false, "zero": false}, "axis": null},
  "color": {"field": "series", "type": "nominal", "scale": {"domain": ["L-","L+","M-","M+","S-","S+"]}, "legend": {"orient": "top-left", "title": null, "rowPadding": 5, "encode": {"symbols": {"update": {"stroke": {"value": "#333"}, "strokeWidth": {"value": 1}}}}}},
  "shape": {"field": "series", "type": "nominal", "scale": {"domain": ["L-","L+","M-","M+","S-","S+"]}, "legend": {"orient": "top-left", "title": null, "rowPadding": 5, "encode": {"symbols": {"update": {"stroke": {"value": "#333"}, "strokeWidth": {"value": 1}}}}}}
 }},
{"data": {"name": "pts"}, "transform": [{"filter": "datum.panel=='b' && substring(datum.series,0,1)=='M'"}],
 "mark": {"type": "point", "filled": true, "size": 80, "stroke": "#333", "strokeWidth": 0.8, "opacity": 1},
 "encoding": {
  "x": {"field": "x", "type": "quantitative", "scale": {"domain": [0.5, 2.9], "nice": false, "zero": false}, "axis": {"values": [0.5,0.75,1,1.25,1.5,1.75,2,2.25,2.5,2.75], "format": ".1f", "labelExpr": "round(datum.value*4) % 2 == 0 ? datum.label : ''", "tickSize": {"condition": {"test": "round(datum.value*4) % 2 == 0", "value": 7}, "value": 4}, "title": "Wind Speed(m/s)"}},
  "y": {"field": "y", "type": "quantitative", "scale": {"domain": [30, 160], "nice": false, "zero": false}, "axis": null},
  "color": {"field": "series", "type": "nominal", "scale": {"domain": ["L-","L+","M-","M+","S-","S+"]}, "legend": {"orient": "top-left", "title": null, "rowPadding": 5, "encode": {"symbols": {"update": {"stroke": {"value": "#333"}, "strokeWidth": {"value": 1}}}}}},
  "shape": {"field": "series", "type": "nominal", "scale": {"domain": ["L-","L+","M-","M+","S-","S+"]}, "legend": {"orient": "top-left", "title": null, "rowPadding": 5, "encode": {"symbols": {"update": {"stroke": {"value": "#333"}, "strokeWidth": {"value": 1}}}}}}
 }},
{"data": {"name": "pts"}, "transform": [{"filter": "datum.panel=='b' && substring(datum.series,0,1)=='S'"}],
 "mark": {"type": "point", "filled": true, "size": 80, "stroke": "#333", "strokeWidth": 0.8, "opacity": 1},
 "encoding": {
  "x": {"field": "x", "type": "quantitative", "scale": {"domain": [0.5, 2.9], "nice": false, "zero": false}, "axis": {"values": [0.5,0.75,1,1.25,1.5,1.75,2,2.25,2.5,2.75], "format": ".1f", "labelExpr": "round(datum.value*4) % 2 == 0 ? datum.label : ''", "tickSize": {"condition": {"test": "round(datum.value*4) % 2 == 0", "value": 7}, "value": 4}, "title": "Wind Speed(m/s)"}},
  "y": {"field": "y", "type": "quantitative", "scale": {"domain": [62.5, 228.5], "nice": false, "zero": false}, "axis": {"orient": "right", "values": [80,100,120,140,160,180,200,220], "format": "d", "labelExpr": "datum.value % 40 == 0 ? datum.label : ''", "tickSize": {"condition": {"test": "datum.value % 40 == 0", "value": 7}, "value": 4}, "title": "Small Ion(cm⁻³)", "titleFontSize": 24}},
  "color": {"field": "series", "type": "nominal", "scale": {"domain": ["L-","L+","M-","M+","S-","S+"]}, "legend": {"orient": "top-left", "title": null, "rowPadding": 5, "encode": {"symbols": {"update": {"stroke": {"value": "#333"}, "strokeWidth": {"value": 1}}}}}},
  "shape": {"field": "series", "type": "nominal", "scale": {"domain": ["L-","L+","M-","M+","S-","S+"]}, "legend": {"orient": "top-left", "title": null, "rowPadding": 5, "encode": {"symbols": {"update": {"stroke": {"value": "#333"}, "strokeWidth": {"value": 1}}}}}}
 }},
{"data": {"name": "fits"}, "transform": [{"filter": "datum.panel=='b' && substring(datum.series,0,1)=='S'"}],
 "mark": {"type": "line", "strokeWidth": 2},
 "encoding": {
  "x": {"field": "x", "type": "quantitative", "scale": {"domain": [0.5, 2.9], "nice": false, "zero": false}, "axis": {"values": [0.5,0.75,1,1.25,1.5,1.75,2,2.25,2.5,2.75], "format": ".1f", "labelExpr": "round(datum.value*4) % 2 == 0 ? datum.label : ''", "tickSize": {"condition": {"test": "round(datum.value*4) % 2 == 0", "value": 7}, "value": 4}, "title": "Wind Speed(m/s)"}},
  "y": {"field": "y", "type": "quantitative", "scale": {"domain": [62.5, 228.5], "nice": false, "zero": false}, "axis": null},
  "color": {"field": "series", "type": "nominal", "scale": {"domain": ["L-","L+","M-","M+","S-","S+"]}, "legend": null}
 }},
{"data": {"name": "fits"}, "transform": [{"filter": "datum.panel=='b' && substring(datum.series,0,1)=='M'"}],
 "mark": {"type": "line", "strokeWidth": 2},
 "encoding": {
  "x": {"field": "x", "type": "quantitative", "scale": {"domain": [0.5, 2.9], "nice": false, "zero": false}, "axis": {"values": [0.5,0.75,1,1.25,1.5,1.75,2,2.25,2.5,2.75], "format": ".1f", "labelExpr": "round(datum.value*4) % 2 == 0 ? datum.label : ''", "tickSize": {"condition": {"test": "round(datum.value*4) % 2 == 0", "value": 7}, "value": 4}, "title": "Wind Speed(m/s)"}},
  "y": {"field": "y", "type": "quantitative", "scale": {"domain": [30, 160], "nice": false, "zero": false}, "axis": null},
  "color": {"field": "series", "type": "nominal", "scale": {"domain": ["L-","L+","M-","M+","S-","S+"]}, "legend": null}
 }},
{"data": {"name": "fits"}, "transform": [{"filter": "datum.panel=='b' && substring(datum.series,0,1)=='L'"}],
 "mark": {"type": "line", "strokeWidth": 2},
 "encoding": {
  "x": {"field": "x", "type": "quantitative", "scale": {"domain": [0.5, 2.9], "nice": false, "zero": false}, "axis": {"values": [0.5,0.75,1,1.25,1.5,1.75,2,2.25,2.5,2.75], "format": ".1f", "labelExpr": "round(datum.value*4) % 2 == 0 ? datum.label : ''", "tickSize": {"condition": {"test": "round(datum.value*4) % 2 == 0", "value": 7}, "value": 4}, "title": "Wind Speed(m/s)"}},
  "y": {"field": "y", "type": "quantitative", "scale": {"domain": [1000, 4000], "nice": false, "zero": false}, "axis": null},
  "color": {"field": "series", "type": "nominal", "scale": {"domain": ["L-","L+","M-","M+","S-","S+"]}, "legend": null}
 }},
{"data": {"name": "letters"}, "transform": [{"filter": "datum.panel=='b'"}],
 "mark": {"type": "text", "font": "Liberation Serif", "fontWeight": "bold", "fontSize": 44, "align": "left", "baseline": "alphabetic", "color": "#000"},
 "encoding": {
  "x": {"field": "x", "type": "quantitative", "scale": {"domain": [0.5, 2.9], "nice": false, "zero": false}, "axis": {"values": [0.5,0.75,1,1.25,1.5,1.75,2,2.25,2.5,2.75], "format": ".1f", "labelExpr": "round(datum.value*4) % 2 == 0 ? datum.label : ''", "tickSize": {"condition": {"test": "round(datum.value*4) % 2 == 0", "value": 7}, "value": 4}, "title": "Wind Speed(m/s)"}},
  "y": {"field": "y", "type": "quantitative", "scale": {"domain": [30, 160], "nice": false, "zero": false}, "axis": null},
  "text": {"field": "label"}
 }}
]
},
{
"width": 414, "height": 390,
"resolve": {"scale": {"y": "independent"}},
"layer": [
{"data": {"name": "pts"}, "transform": [{"filter": "datum.panel=='c' && substring(datum.series,0,1)=='L'"}],
 "mark": {"type": "point", "filled": true, "size": 80, "stroke": "#333", "strokeWidth": 0.8, "opacity": 1},
 "encoding": {
  "x": {"field": "x", "type": "quantitative", "scale": {"domain": [40, 75], "nice": false, "zero": false}, "axis": {"values": [40,45,50,55,60,65,70], "format": "d", "labelExpr": "datum.value % 10 == 0 ? datum.label : ''", "tickSize": {"condition": {"test": "datum.value % 10 == 0", "value": 7}, "value": 4}, "title": "RH(%)"}},
  "y": {"field": "y", "type": "quantitative", "scale": {"domain": [1000, 4000], "nice": false, "zero": false}, "axis": {"orient": "left", "offset": 91, "values": [1000,1500,2000,2500,3000,3500,4000], "format": "d", "labelExpr": "datum.value % 1000 == 0 ? datum.label : ''", "tickSize": {"condition": {"test": "datum.value % 1000 == 0", "value": 7}, "value": 4}, "title": "Large Ion(cm⁻³)"}},
  "color": {"field": "series", "type": "nominal", "scale": {"domain": ["L-","L+","M-","M+","S-","S+"]}, "legend": {"orient": "top-right", "title": null, "encode": {"symbols": {"update": {"stroke": {"value": "#333"}, "strokeWidth": {"value": 1}}}}}},
  "shape": {"field": "series", "type": "nominal", "scale": {"domain": ["L-","L+","M-","M+","S-","S+"]}, "legend": {"orient": "top-right", "title": null, "encode": {"symbols": {"update": {"stroke": {"value": "#333"}, "strokeWidth": {"value": 1}}}}}}
 }},
{"data": {"name": "pts"}, "transform": [{"filter": "datum.panel=='c' && substring(datum.series,0,1)=='M'"}],
 "mark": {"type": "point", "filled": true, "size": 80, "stroke": "#333", "strokeWidth": 0.8, "opacity": 1},
 "encoding": {
  "x": {"field": "x", "type": "quantitative", "scale": {"domain": [40, 75], "nice": false, "zero": false}, "axis": {"values": [40,45,50,55,60,65,70], "format": "d", "labelExpr": "datum.value % 10 == 0 ? datum.label : ''", "tickSize": {"condition": {"test": "datum.value % 10 == 0", "value": 7}, "value": 4}, "title": "RH(%)"}},
  "y": {"field": "y", "type": "quantitative", "scale": {"domain": [30, 160], "nice": false, "zero": false}, "axis": {"orient": "left", "values": [40,60,80,100,120,140,160], "format": "d", "labelExpr": "datum.value % 40 == 0 ? datum.label : ''", "tickSize": {"condition": {"test": "datum.value % 40 == 0", "value": 7}, "value": 4}, "title": "Intermediate Ion(cm⁻³)"}},
  "color": {"field": "series", "type": "nominal", "scale": {"domain": ["L-","L+","M-","M+","S-","S+"]}, "legend": {"orient": "top-right", "title": null, "encode": {"symbols": {"update": {"stroke": {"value": "#333"}, "strokeWidth": {"value": 1}}}}}},
  "shape": {"field": "series", "type": "nominal", "scale": {"domain": ["L-","L+","M-","M+","S-","S+"]}, "legend": {"orient": "top-right", "title": null, "encode": {"symbols": {"update": {"stroke": {"value": "#333"}, "strokeWidth": {"value": 1}}}}}}
 }},
{"data": {"name": "pts"}, "transform": [{"filter": "datum.panel=='c' && substring(datum.series,0,1)=='S'"}],
 "mark": {"type": "point", "filled": true, "size": 80, "stroke": "#333", "strokeWidth": 0.8, "opacity": 1},
 "encoding": {
  "x": {"field": "x", "type": "quantitative", "scale": {"domain": [40, 75], "nice": false, "zero": false}, "axis": {"values": [40,45,50,55,60,65,70], "format": "d", "labelExpr": "datum.value % 10 == 0 ? datum.label : ''", "tickSize": {"condition": {"test": "datum.value % 10 == 0", "value": 7}, "value": 4}, "title": "RH(%)"}},
  "y": {"field": "y", "type": "quantitative", "scale": {"domain": [62.5, 228.5], "nice": false, "zero": false}, "axis": null},
  "color": {"field": "series", "type": "nominal", "scale": {"domain": ["L-","L+","M-","M+","S-","S+"]}, "legend": {"orient": "top-right", "title": null, "encode": {"symbols": {"update": {"stroke": {"value": "#333"}, "strokeWidth": {"value": 1}}}}}},
  "shape": {"field": "series", "type": "nominal", "scale": {"domain": ["L-","L+","M-","M+","S-","S+"]}, "legend": {"orient": "top-right", "title": null, "encode": {"symbols": {"update": {"stroke": {"value": "#333"}, "strokeWidth": {"value": 1}}}}}}
 }},
{"data": {"name": "fits"}, "transform": [{"filter": "datum.panel=='c' && substring(datum.series,0,1)=='S'"}],
 "mark": {"type": "line", "strokeWidth": 2, "interpolate": "monotone"},
 "encoding": {
  "x": {"field": "x", "type": "quantitative", "scale": {"domain": [40, 75], "nice": false, "zero": false}, "axis": {"values": [40,45,50,55,60,65,70], "format": "d", "labelExpr": "datum.value % 10 == 0 ? datum.label : ''", "tickSize": {"condition": {"test": "datum.value % 10 == 0", "value": 7}, "value": 4}, "title": "RH(%)"}},
  "y": {"field": "y", "type": "quantitative", "scale": {"domain": [62.5, 228.5], "nice": false, "zero": false}, "axis": null},
  "color": {"field": "series", "type": "nominal", "scale": {"domain": ["L-","L+","M-","M+","S-","S+"]}, "legend": null}
 }},
{"data": {"name": "fits"}, "transform": [{"filter": "datum.panel=='c' && substring(datum.series,0,1)=='M'"}],
 "mark": {"type": "line", "strokeWidth": 2},
 "encoding": {
  "x": {"field": "x", "type": "quantitative", "scale": {"domain": [40, 75], "nice": false, "zero": false}, "axis": {"values": [40,45,50,55,60,65,70], "format": "d", "labelExpr": "datum.value % 10 == 0 ? datum.label : ''", "tickSize": {"condition": {"test": "datum.value % 10 == 0", "value": 7}, "value": 4}, "title": "RH(%)"}},
  "y": {"field": "y", "type": "quantitative", "scale": {"domain": [30, 160], "nice": false, "zero": false}, "axis": null},
  "color": {"field": "series", "type": "nominal", "scale": {"domain": ["L-","L+","M-","M+","S-","S+"]}, "legend": null}
 }},
{"data": {"name": "fits"}, "transform": [{"filter": "datum.panel=='c' && substring(datum.series,0,1)=='L'"}],
 "mark": {"type": "line", "strokeWidth": 2, "interpolate": "monotone"},
 "encoding": {
  "x": {"field": "x", "type": "quantitative", "scale": {"domain": [40, 75], "nice": false, "zero": false}, "axis": {"values": [40,45,50,55,60,65,70], "format": "d", "labelExpr": "datum.value % 10 == 0 ? datum.label : ''", "tickSize": {"condition": {"test": "datum.value % 10 == 0", "value": 7}, "value": 4}, "title": "RH(%)"}},
  "y": {"field": "y", "type": "quantitative", "scale": {"domain": [1000, 4000], "nice": false, "zero": false}, "axis": null},
  "color": {"field": "series", "type": "nominal", "scale": {"domain": ["L-","L+","M-","M+","S-","S+"]}, "legend": null}
 }},
{"data": {"name": "letters"}, "transform": [{"filter": "datum.panel=='c'"}],
 "mark": {"type": "text", "font": "Liberation Serif", "fontWeight": "bold", "fontSize": 44, "align": "left", "baseline": "alphabetic", "color": "#000"},
 "encoding": {
  "x": {"field": "x", "type": "quantitative", "scale": {"domain": [40, 75], "nice": false, "zero": false}, "axis": {"values": [40,45,50,55,60,65,70], "format": "d", "labelExpr": "datum.value % 10 == 0 ? datum.label : ''", "tickSize": {"condition": {"test": "datum.value % 10 == 0", "value": 7}, "value": 4}, "title": "RH(%)"}},
  "y": {"field": "y", "type": "quantitative", "scale": {"domain": [30, 160], "nice": false, "zero": false}, "axis": null},
  "text": {"field": "label"}
 }}
]
},
{
"width": 414, "height": 390,
"resolve": {"scale": {"y": "independent"}},
"layer": [
{"data": {"name": "pts"}, "transform": [{"filter": "datum.panel=='d' && substring(datum.series,0,1)=='L'"}],
 "mark": {"type": "point", "filled": true, "size": 80, "stroke": "#333", "strokeWidth": 0.8, "opacity": 1},
 "encoding": {
  "x": {"field": "x", "type": "quantitative", "scale": {"domain": [7.5, 32.5], "nice": false, "zero": false}, "axis": {"values": [10,12.5,15,17.5,20,22.5,25,27.5,30], "format": "d", "labelExpr": "datum.value % 5 == 0 ? datum.label : ''", "tickSize": {"condition": {"test": "datum.value % 5 == 0", "value": 7}, "value": 4}, "title": "Visibility(Km)"}},
  "y": {"field": "y", "type": "quantitative", "scale": {"domain": [1000, 4000], "nice": false, "zero": false}, "axis": null},
  "color": {"field": "series", "type": "nominal", "scale": {"domain": ["L-","L+","M-","M+","S-","S+"]}, "legend": {"orient": "top-left", "title": null, "encode": {"symbols": {"update": {"stroke": {"value": "#333"}, "strokeWidth": {"value": 1}}}}}},
  "shape": {"field": "series", "type": "nominal", "scale": {"domain": ["L-","L+","M-","M+","S-","S+"]}, "legend": {"orient": "top-left", "title": null, "encode": {"symbols": {"update": {"stroke": {"value": "#333"}, "strokeWidth": {"value": 1}}}}}}
 }},
{"data": {"name": "pts"}, "transform": [{"filter": "datum.panel=='d' && substring(datum.series,0,1)=='M'"}],
 "mark": {"type": "point", "filled": true, "size": 80, "stroke": "#333", "strokeWidth": 0.8, "opacity": 1},
 "encoding": {
  "x": {"field": "x", "type": "quantitative", "scale": {"domain": [7.5, 32.5], "nice": false, "zero": false}, "axis": {"values": [10,12.5,15,17.5,20,22.5,25,27.5,30], "format": "d", "labelExpr": "datum.value % 5 == 0 ? datum.label : ''", "tickSize": {"condition": {"test": "datum.value % 5 == 0", "value": 7}, "value": 4}, "title": "Visibility(Km)"}},
  "y": {"field": "y", "type": "quantitative", "scale": {"domain": [30, 160], "nice": false, "zero": false}, "axis": null},
  "color": {"field": "series", "type": "nominal", "scale": {"domain": ["L-","L+","M-","M+","S-","S+"]}, "legend": {"orient": "top-left", "title": null, "encode": {"symbols": {"update": {"stroke": {"value": "#333"}, "strokeWidth": {"value": 1}}}}}},
  "shape": {"field": "series", "type": "nominal", "scale": {"domain": ["L-","L+","M-","M+","S-","S+"]}, "legend": {"orient": "top-left", "title": null, "encode": {"symbols": {"update": {"stroke": {"value": "#333"}, "strokeWidth": {"value": 1}}}}}}
 }},
{"data": {"name": "pts"}, "transform": [{"filter": "datum.panel=='d' && substring(datum.series,0,1)=='S'"}],
 "mark": {"type": "point", "filled": true, "size": 80, "stroke": "#333", "strokeWidth": 0.8, "opacity": 1},
 "encoding": {
  "x": {"field": "x", "type": "quantitative", "scale": {"domain": [7.5, 32.5], "nice": false, "zero": false}, "axis": {"values": [10,12.5,15,17.5,20,22.5,25,27.5,30], "format": "d", "labelExpr": "datum.value % 5 == 0 ? datum.label : ''", "tickSize": {"condition": {"test": "datum.value % 5 == 0", "value": 7}, "value": 4}, "title": "Visibility(Km)"}},
  "y": {"field": "y", "type": "quantitative", "scale": {"domain": [62.5, 228.5], "nice": false, "zero": false}, "axis": {"orient": "right", "values": [80,100,120,140,160,180,200,220], "format": "d", "labelExpr": "datum.value % 40 == 0 ? datum.label : ''", "tickSize": {"condition": {"test": "datum.value % 40 == 0", "value": 7}, "value": 4}, "title": "Small Ion(cm⁻³)", "titleFontSize": 24}},
  "color": {"field": "series", "type": "nominal", "scale": {"domain": ["L-","L+","M-","M+","S-","S+"]}, "legend": {"orient": "top-left", "title": null, "encode": {"symbols": {"update": {"stroke": {"value": "#333"}, "strokeWidth": {"value": 1}}}}}},
  "shape": {"field": "series", "type": "nominal", "scale": {"domain": ["L-","L+","M-","M+","S-","S+"]}, "legend": {"orient": "top-left", "title": null, "encode": {"symbols": {"update": {"stroke": {"value": "#333"}, "strokeWidth": {"value": 1}}}}}}
 }},
{"data": {"name": "fits"}, "transform": [{"filter": "datum.panel=='d' && substring(datum.series,0,1)=='S'"}],
 "mark": {"type": "line", "strokeWidth": 2},
 "encoding": {
  "x": {"field": "x", "type": "quantitative", "scale": {"domain": [7.5, 32.5], "nice": false, "zero": false}, "axis": {"values": [10,12.5,15,17.5,20,22.5,25,27.5,30], "format": "d", "labelExpr": "datum.value % 5 == 0 ? datum.label : ''", "tickSize": {"condition": {"test": "datum.value % 5 == 0", "value": 7}, "value": 4}, "title": "Visibility(Km)"}},
  "y": {"field": "y", "type": "quantitative", "scale": {"domain": [62.5, 228.5], "nice": false, "zero": false}, "axis": null},
  "color": {"field": "series", "type": "nominal", "scale": {"domain": ["L-","L+","M-","M+","S-","S+"]}, "legend": null}
 }},
{"data": {"name": "fits"}, "transform": [{"filter": "datum.panel=='d' && substring(datum.series,0,1)=='M'"}],
 "mark": {"type": "line", "strokeWidth": 2},
 "encoding": {
  "x": {"field": "x", "type": "quantitative", "scale": {"domain": [7.5, 32.5], "nice": false, "zero": false}, "axis": {"values": [10,12.5,15,17.5,20,22.5,25,27.5,30], "format": "d", "labelExpr": "datum.value % 5 == 0 ? datum.label : ''", "tickSize": {"condition": {"test": "datum.value % 5 == 0", "value": 7}, "value": 4}, "title": "Visibility(Km)"}},
  "y": {"field": "y", "type": "quantitative", "scale": {"domain": [30, 160], "nice": false, "zero": false}, "axis": null},
  "color": {"field": "series", "type": "nominal", "scale": {"domain": ["L-","L+","M-","M+","S-","S+"]}, "legend": null}
 }},
{"data": {"name": "fits"}, "transform": [{"filter": "datum.panel=='d' && substring(datum.series,0,1)=='L'"}],
 "mark": {"type": "line", "strokeWidth": 2},
 "encoding": {
  "x": {"field": "x", "type": "quantitative", "scale": {"domain": [7.5, 32.5], "nice": false, "zero": false}, "axis": {"values": [10,12.5,15,17.5,20,22.5,25,27.5,30], "format": "d", "labelExpr": "datum.value % 5 == 0 ? datum.label : ''", "tickSize": {"condition": {"test": "datum.value % 5 == 0", "value": 7}, "value": 4}, "title": "Visibility(Km)"}},
  "y": {"field": "y", "type": "quantitative", "scale": {"domain": [1000, 4000], "nice": false, "zero": false}, "axis": null},
  "color": {"field": "series", "type": "nominal", "scale": {"domain": ["L-","L+","M-","M+","S-","S+"]}, "legend": null}
 }},
{"data": {"name": "letters"}, "transform": [{"filter": "datum.panel=='d'"}],
 "mark": {"type": "text", "font": "Liberation Serif", "fontWeight": "bold", "fontSize": 44, "align": "left", "baseline": "alphabetic", "color": "#000"},
 "encoding": {
  "x": {"field": "x", "type": "quantitative", "scale": {"domain": [7.5, 32.5], "nice": false, "zero": false}, "axis": {"values": [10,12.5,15,17.5,20,22.5,25,27.5,30], "format": "d", "labelExpr": "datum.value % 5 == 0 ? datum.label : ''", "tickSize": {"condition": {"test": "datum.value % 5 == 0", "value": 7}, "value": 4}, "title": "Visibility(Km)"}},
  "y": {"field": "y", "type": "quantitative", "scale": {"domain": [30, 160], "nice": false, "zero": false}, "axis": null},
  "text": {"field": "label"}
 }}
]
}
]
}
